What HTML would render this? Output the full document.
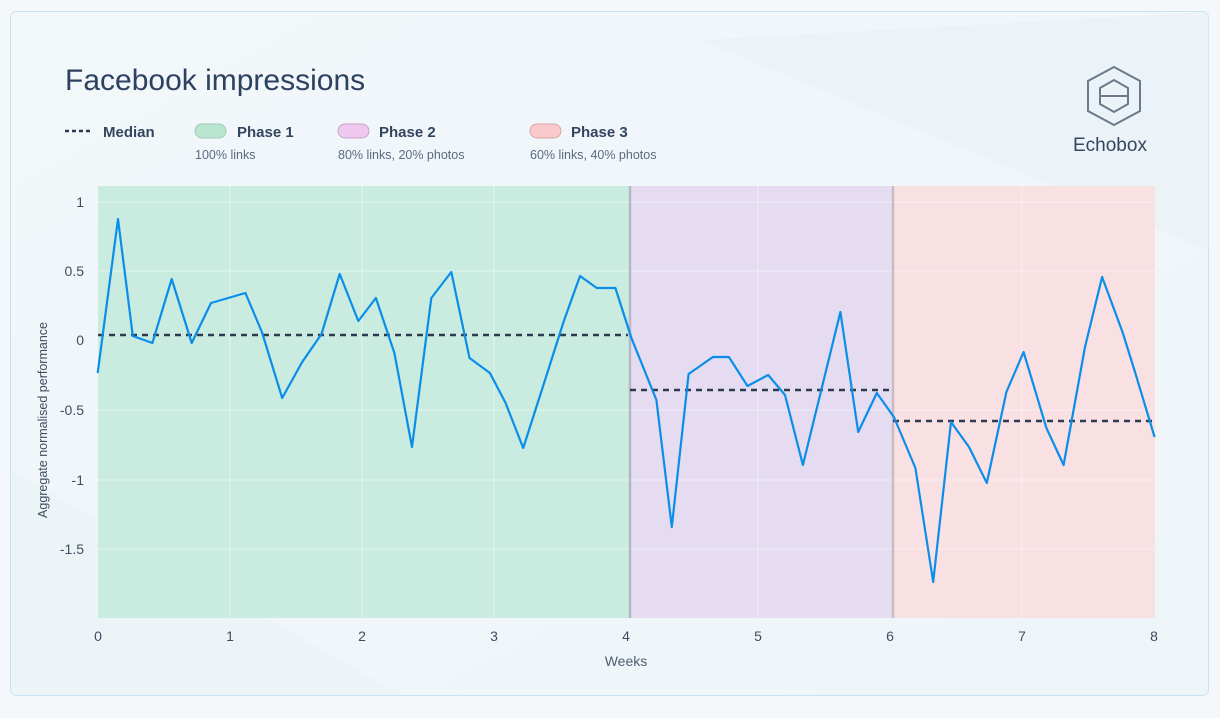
<!DOCTYPE html>
<html><head><meta charset="utf-8"><style>
body{margin:0;width:1220px;height:713px;background:#f3f7fa;font-family:"Liberation Sans",sans-serif;overflow:hidden}
</style></head><body>
<svg width="1220" height="713" viewBox="0 0 1220 713" xmlns="http://www.w3.org/2000/svg">
<defs>
<linearGradient id="bg" x1="0" y1="0" x2="1" y2="1"><stop offset="0" stop-color="#f2f7fa"/><stop offset="1" stop-color="#eef5f9"/></linearGradient>
</defs>
<rect x="0" y="0" width="1220" height="713" fill="#f4f8fa"/>
<rect x="10.5" y="11.5" width="1198" height="684" rx="6" fill="url(#bg)" stroke="#c9e2ef"/>
<polygon points="700,40 1209,12 1209,250" fill="#e6f0f6" opacity="0.4"/>
<polygon points="11,470 400,695 11,695" fill="#e8f1f6" opacity="0.5"/>
<text x="65" y="90" font-size="30" fill="#2d4160">Facebook impressions</text>
<!-- legend -->
<line x1="65" y1="131" x2="92" y2="131" stroke="#2d3a50" stroke-width="2.5" stroke-dasharray="4,3"/>
<text x="103" y="137" font-size="15" font-weight="bold" fill="#34455f">Median</text>
<rect x="195" y="124" width="31" height="14" rx="7" fill="#b8e6cf" stroke="#9fc9b8"/>
<text x="237" y="137" font-size="15" font-weight="bold" fill="#34455f">Phase 1</text>
<text x="195" y="159" font-size="12.5" fill="#5a6a7e">100% links</text>
<rect x="338" y="124" width="31" height="14" rx="7" fill="#efc8ef" stroke="#c6a6c6"/>
<text x="379" y="137" font-size="15" font-weight="bold" fill="#34455f">Phase 2</text>
<text x="338" y="159" font-size="12.5" fill="#5a6a7e">80% links, 20% photos</text>
<rect x="530" y="124" width="31" height="14" rx="7" fill="#fbc9cc" stroke="#d6a8aa"/>
<text x="571" y="137" font-size="15" font-weight="bold" fill="#34455f">Phase 3</text>
<text x="530" y="159" font-size="12.5" fill="#5a6a7e">60% links, 40% photos</text>
<!-- logo -->
<g fill="none" stroke="#6b7a8a" stroke-width="2">
<polygon points="1114,67 1140,81 1140,111 1114,125 1088,111 1088,81"/>
<path d="M1100,88 L1114,80 L1128,88 L1128,104 L1114,112 L1100,104 Z M1100,96 L1128,96"/>
</g>
<text x="1073" y="151" font-size="19" fill="#34455f">Echobox</text>
<!-- plot -->
<rect x="98" y="186" width="532" height="432" fill="#c9ebe0"/>
<rect x="630" y="186" width="263" height="432" fill="#e5dcf1"/>
<rect x="893" y="186" width="262" height="432" fill="#f9e0e3"/>
<g stroke="#ffffff" stroke-opacity="0.45" stroke-width="1">
<line x1="98" y1="202" x2="1155" y2="202"/><line x1="98" y1="271" x2="1155" y2="271"/>
<line x1="98" y1="410" x2="1155" y2="410"/><line x1="98" y1="480" x2="1155" y2="480"/>
<line x1="98" y1="549" x2="1155" y2="549"/>
<line x1="230" y1="186" x2="230" y2="618"/><line x1="362" y1="186" x2="362" y2="618"/>
<line x1="494" y1="186" x2="494" y2="618"/><line x1="758" y1="186" x2="758" y2="618"/>
<line x1="1022" y1="186" x2="1022" y2="618"/>
</g>
<line x1="630" y1="186" x2="630" y2="618" stroke="#b8b6c4" stroke-width="2.5"/>
<line x1="893" y1="186" x2="893" y2="618" stroke="#c8bcc2" stroke-width="2.5"/>
<g stroke="#2d3a50" stroke-width="2.5" stroke-dasharray="6,5">
<line x1="98" y1="335" x2="628" y2="335"/>
<line x1="630" y1="390" x2="891" y2="390"/>
<line x1="893" y1="421" x2="1155" y2="421"/>
</g>
<polyline fill="none" stroke="#0a8eea" stroke-width="2.2" stroke-linejoin="round" points="97.7,373 118,219 132.8,336 152.4,343 171.7,279 191.7,343 211,303 245.4,293 261.9,332 282.2,398 302.2,362 321.5,334 339.7,274 358.3,321 375.9,298 394.4,353 412,447 431.3,298 451.3,272 469.5,358 489.9,373 505.6,403 523.2,448 546,377 563.5,322 580,276 596.8,288 615.4,288 631.4,338 656.4,400 671.8,527 688.6,374 712.9,357 728.9,357 747.5,386 768.2,375 785,395 802.9,465 840.4,312 858.2,432 876.8,393 893.9,417 915.4,468 933.2,582 951,422 969,447 986.8,483 1006.4,392 1023.6,352 1046.4,428 1063.6,465 1085,347 1102.1,277 1122.5,332 1135,372 1154.6,437"/>
<g font-size="14" fill="#3f4d60" text-anchor="end">
<text x="84" y="207">1</text><text x="84" y="276">0.5</text><text x="84" y="345">0</text>
<text x="84" y="415">-0.5</text><text x="84" y="485">-1</text><text x="84" y="554">-1.5</text>
</g>
<g font-size="14" fill="#3f4d60" text-anchor="middle">
<text x="98" y="641">0</text><text x="230" y="641">1</text><text x="362" y="641">2</text><text x="494" y="641">3</text>
<text x="626" y="641">4</text><text x="758" y="641">5</text><text x="890" y="641">6</text><text x="1022" y="641">7</text><text x="1154" y="641">8</text>
<text x="626" y="666" fill="#4f5d70">Weeks</text>
</g>
<text transform="translate(47,420) rotate(-90)" font-size="12.5" fill="#3f4d60" text-anchor="middle">Aggregate normalised performance</text>
</svg>
</body></html>
